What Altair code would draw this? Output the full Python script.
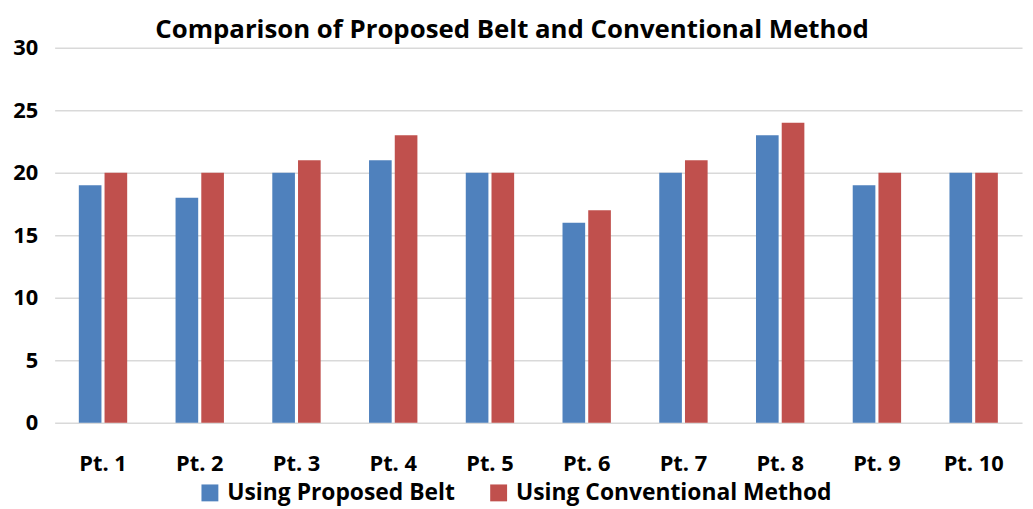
import altair as alt
import pandas as pd

points = ["Pt. 1", "Pt. 2", "Pt. 3", "Pt. 4", "Pt. 5", "Pt. 6", "Pt. 7", "Pt. 8", "Pt. 9", "Pt. 10"]
proposed = [19, 18, 20, 21, 20, 16, 20, 23, 19, 20]
conventional = [20, 20, 21, 23, 20, 17, 21, 24, 20, 20]
series = ["Using Proposed Belt", "Using Conventional Method"]
colors = ["#4F81BD", "#C0504D"]
title_text = ["Comparison of Proposed Belt and Conventional Method"]

rows = []
for p, a, b in zip(points, proposed, conventional):
    rows.append({"point": p, "series": series[0], "value": a})
    rows.append({"point": p, "series": series[1], "value": b})
df = pd.DataFrame(rows)

FONT = "Open Sans"

bars = alt.Chart(df).mark_bar(strokeWidth=1).encode(
    x=alt.X("point:N", sort=points, title=None,
            scale=alt.Scale(paddingInner=0.5, paddingOuter=0.25),
            axis=alt.Axis(labelAngle=0, labelFontSize=22, labelFontWeight="bold",
                          labelColor="#000000", labelPadding=31, ticks=False,
                          domain=False, labelFont=FONT)),
    xOffset=alt.XOffset("series:N", sort=series, scale=alt.Scale(paddingInner=0.12)),
    y=alt.Y("value:Q", title=None,
            scale=alt.Scale(domain=[0, 30]),
            axis=alt.Axis(values=[0, 5, 10, 15, 20, 25, 30], labelFontSize=22,
                          labelFontWeight="bold", labelColor="#000000",
                          labelPadding=17, ticks=False, domain=False,
                          gridColor="#d9d9d9", gridWidth=1.5, labelFont=FONT)),
    color=alt.Color("series:N", sort=series,
                    scale=alt.Scale(domain=series, range=colors),
                    legend=alt.Legend(title=None, orient="none", direction="horizontal",
                                      legendX=145, legendY=437, symbolType="square",
                                      symbolSize=290, labelFontSize=23, labelFontWeight="bold",
                                      labelColor="#000000", labelFont=FONT, labelLimit=0,
                                      labelOffset=6, columnPadding=32, symbolStrokeWidth=0)),
)

title = alt.Chart(pd.DataFrame({"t": title_text})).mark_text(
    font=FONT, fontSize=26, fontWeight="bold", color="#000000",
    align="center", baseline="middle",
).encode(
    text="t:N",
    x=alt.value(461),
    y=alt.value(-18),
)

chart = alt.layer(bars, title).properties(
    width=975,
    height=378,
    autosize=alt.AutoSizeParams(type="none"),
    padding={"left": 47, "top": 38, "right": 3, "bottom": 84},
).configure_view(stroke=None)

chart.save("out.html", embed_options={"renderer": "svg", "actions": False})
